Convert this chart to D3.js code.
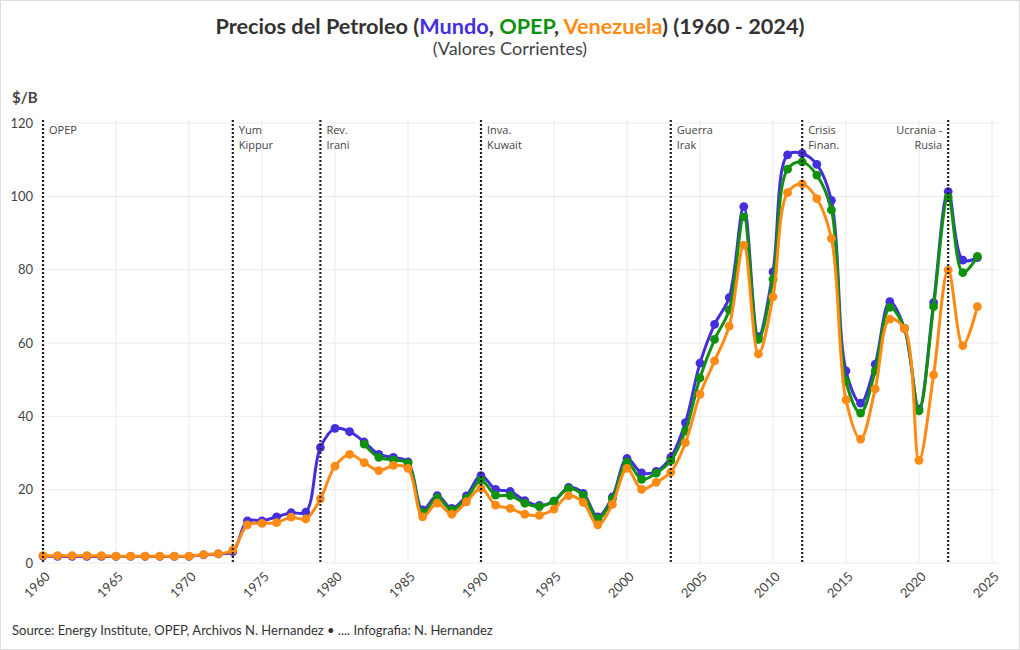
<!DOCTYPE html>
<html>
<head>
<meta charset="utf-8">
<script src="https://cdn.jsdelivr.net/npm/d3@7"></script>
<style>
  html, body { margin: 0; padding: 0; background: #fff; }
  svg { display: block; }
</style>
</head>
<body>
<svg id="chart" width="1020" height="650"></svg>
<script>
const years = [1960,1961,1962,1963,1964,1965,1966,1967,1968,1969,1970,1971,1972,1973,1974,1975,1976,1977,1978,1979,
  1980,1981,1982,1983,1984,1985,1986,1987,1988,1989,1990,1991,1992,1993,1994,1995,1996,1997,1998,1999,
  2000,2001,2002,2003,2004,2005,2006,2007,2008,2009,2010,2011,2012,2013,2014,2015,2016,2017,2018,2019,
  2020,2021,2022,2023,2024];

const mundo = [1.9,1.8,1.8,1.8,1.8,1.8,1.8,1.8,1.8,1.8,1.8,2.24,2.48,3.1,11.5,11.5,12.6,13.7,13.9,31.5,
  36.7,35.8,33.0,29.6,28.8,27.6,14.5,18.4,14.9,18.3,23.8,20.1,19.5,17.0,15.7,16.9,20.6,19.0,12.6,18.0,
  28.5,24.6,25.0,28.8,38.3,54.5,65.1,72.4,97.2,61.7,79.4,111.3,111.7,108.7,98.9,52.4,43.6,54.2,71.3,64.0,
  42.0,71.0,101.3,82.6,83.3];

const opep = [null,null,null,null,null,null,null,null,null,null,null,null,null,null,null,null,null,null,null,null,
  null,null,32.4,28.8,28.1,27.2,13.7,17.8,14.5,17.6,22.6,18.5,18.4,16.3,15.4,16.9,20.3,18.5,12.1,17.5,
  27.5,22.8,24.5,27.9,36.0,50.5,61.0,69.0,94.4,61.0,77.4,107.4,109.4,105.8,96.3,49.5,40.9,52.4,69.7,64.0,
  41.5,69.9,99.7,79.2,83.6];

const venezuela = [2.0,2.0,2.0,2.0,2.0,1.85,1.85,1.85,1.85,1.85,1.85,2.3,2.5,3.5,10.4,10.8,11.0,12.5,12.0,17.5,
  26.4,29.6,27.4,25.2,26.6,25.8,12.6,16.3,13.3,16.7,20.4,15.8,14.9,13.3,13.0,14.7,18.4,16.5,10.4,16.0,
  25.8,20.1,22.0,24.8,32.8,46.0,55.1,64.6,86.7,57.0,72.6,101.0,103.4,99.4,88.5,44.5,33.8,47.5,66.5,64.0,
  28.0,51.3,79.9,59.3,69.9];

const seriesNames = ["Mundo", "OPEP", "Venezuela"];
const seriesColors = ["#4330da", "#10920f", "#ff8a14"];

const xTicks = [1960,1965,1970,1975,1980,1985,1990,1995,2000,2005,2010,2015,2020,2025];
const yTicks = [0,20,40,60,80,100,120];

const eventYears = [1960,1973,1979,1990,2003,2012,2022];
const eventLabels = [["OPEP"],["Yum","Kippur"],["Rev.","Irani"],["Inva.","Kuwait"],["Guerra","Irak"],["Crisis","Finan."],["Ucrania -","Rusia"]];

const svg = d3.select("#chart");
const W = 1020, H = 650;
const font = "'Source Sans Pro', Lato, 'Noto Sans', sans-serif";

svg.append("rect").attr("x",0.5).attr("y",0.5).attr("width",W-1).attr("height",H-1)
  .attr("fill","#fff").attr("stroke","#dddddd");

const x = d3.scaleLinear().domain([1960, 2025]).range([43, 992]);
const y = d3.scaleLinear().domain([0, 120]).range([563, 123]);
const plotLeft = 38, plotRight = 998, plotTop = 120;

// grid
const grid = svg.append("g");
grid.selectAll("line.h").data(yTicks).join("line")
  .attr("x1", plotLeft).attr("x2", plotRight)
  .attr("y1", d => y(d)).attr("y2", d => y(d))
  .attr("stroke", "#ebebeb").attr("stroke-width", 1);
grid.selectAll("line.v").data(xTicks).join("line")
  .attr("x1", d => x(d)).attr("x2", d => x(d))
  .attr("y1", plotTop).attr("y2", y(0))
  .attr("stroke", "#ebebeb").attr("stroke-width", 1);

// axes
const yAxis = d3.axisLeft(y).tickValues(yTicks).tickSize(0).tickPadding(0);
const gy = svg.append("g").attr("transform", "translate(33,0)").call(yAxis);
gy.select(".domain").remove();
gy.selectAll("text").attr("font-family", font).attr("font-size", 13).attr("fill", "#444");

const xAxis = d3.axisBottom(x).tickValues(xTicks).tickFormat(d3.format("d")).tickSize(0).tickPadding(0);
const gx = svg.append("g").attr("transform", `translate(0,${y(0)})`).call(xAxis);
gx.select(".domain").remove();
gx.selectAll("text")
  .attr("font-family", font).attr("font-size", 13).attr("fill", "#444")
  .attr("text-anchor", "end").attr("dy", null).attr("y", 0)
  .attr("transform", "translate(5,12) rotate(-45)")
  .attr("dominant-baseline", "middle");

// series
const allSeries = [mundo, opep, venezuela];
const line = d3.line()
  .defined(d => d.v !== null)
  .x(d => x(d.year)).y(d => y(d.v))
  .curve(d3.curveCatmullRom.alpha(0.5));

allSeries.forEach((vals, i) => {
  const data = years.map((yr, j) => ({year: yr, v: vals[j]}));
  const g = svg.append("g").attr("class", "series-" + seriesNames[i]);
  g.append("path").datum(data)
    .attr("d", line).attr("fill", "none")
    .attr("stroke", seriesColors[i]).attr("stroke-width", 3)
    .attr("stroke-linejoin", "round");
  g.selectAll("circle").data(data.filter(d => d.v !== null)).join("circle")
    .attr("cx", d => x(d.year)).attr("cy", d => y(d.v)).attr("r", 4.4)
    .attr("fill", seriesColors[i]);
});

// event lines
const ev = svg.append("g");
eventYears.forEach((yr, i) => {
  ev.append("line")
    .attr("x1", x(yr)).attr("x2", x(yr))
    .attr("y1", plotTop).attr("y2", y(0))
    .attr("stroke", "#222").attr("stroke-width", 2.2)
    .attr("stroke-dasharray", "2 2");
  const last = i === eventYears.length - 1;
  const t = ev.append("text")
    .attr("font-family", "'Open Sans', 'DejaVu Sans', sans-serif")
    .attr("font-size", 11).attr("fill", "#444")
    .attr("text-anchor", last ? "end" : "start");
  eventLabels[i].forEach((s, k) => {
    t.append("tspan").attr("x", x(yr) + (last ? -6 : 6)).attr("y", 134 + k * 15).text(s);
  });
});

// titles
const title = svg.append("text").attr("x", 510).attr("y", 34)
  .attr("text-anchor", "middle").attr("font-family", font)
  .attr("font-size", 21.7).attr("font-weight", "bold").attr("fill", "#333");
title.append("tspan").text("Precios del Petroleo (");
title.append("tspan").attr("fill", seriesColors[0]).text("Mundo");
title.append("tspan").text(", ");
title.append("tspan").attr("fill", seriesColors[1]).text("OPEP");
title.append("tspan").text(", ");
title.append("tspan").attr("fill", seriesColors[2]).text("Venezuela");
title.append("tspan").text(") (1960 - 2024)");

svg.append("text").attr("x", 510).attr("y", 55)
  .attr("text-anchor", "middle").attr("font-family", font)
  .attr("font-size", 18).attr("fill", "#444").text("(Valores Corrientes)");

svg.append("text").attr("x", 12).attr("y", 103)
  .attr("font-family", font).attr("font-size", 15).attr("font-weight", "bold")
  .attr("fill", "#444").text("$/B");

svg.append("text").attr("x", 12).attr("y", 635)
  .attr("font-family", font).attr("font-size", 13).attr("fill", "#333")
  .text("Source: Energy Institute, OPEP, Archivos N. Hernandez \u2022 .... Infografia: N. Hernandez");
</script>
</body>
</html>
